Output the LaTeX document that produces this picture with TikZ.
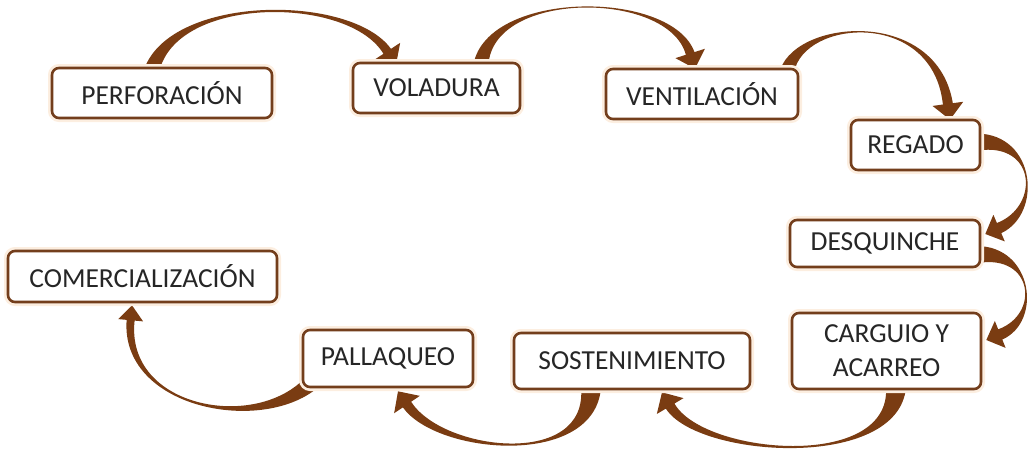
\documentclass[tikz,border=0pt]{standalone}
\usepackage{fontspec}
\setmainfont{Carlito}
\usetikzlibrary{calc}
\definecolor{arrowbrown}{RGB}{122,60,18}
\definecolor{boxbrown}{RGB}{115,62,28}
\definecolor{glow}{RGB}{252,238,224}
\definecolor{txtgray}{RGB}{38,38,38}
\pgfdeclarelayer{bg}
\pgfsetlayers{bg,main}
% tapered curved arrow: #1 start, #2 ctrl1, #3 ctrl2, #4 tip, #5 base half width, #6 ctrl half width, #7 neck half width, #8 head half width, #9 head length
\newcommand{\tarrow}[9]{%
  \coordinate (tP0) at (#1);
  \coordinate (tP1) at (#2);
  \coordinate (tP2) at (#3);
  \coordinate (tP3) at (#4);
  \coordinate (tN) at ($(tP3)!#9!(tP2)$);
  \coordinate (tA0) at ($(tP0)!#5!90:(tP1)$);
  \coordinate (tB0) at ($(tP0)!#5!-90:(tP1)$);
  \coordinate (tA1) at ($(tP1)!#6!-90:(tP0)$);
  \coordinate (tB1) at ($(tP1)!#6!90:(tP0)$);
  \coordinate (tA2) at ($(tP2)!#6!90:(tN)$);
  \coordinate (tB2) at ($(tP2)!#6!-90:(tN)$);
  \coordinate (tAN) at ($(tN)!#7!-90:(tP2)$);
  \coordinate (tBN) at ($(tN)!#7!90:(tP2)$);
  \coordinate (tHA) at ($(tN)!#8!-90:(tP2)$);
  \coordinate (tHB) at ($(tN)!#8!90:(tP2)$);
  \fill[arrowfill] (tA0) .. controls (tA1) and (tA2) .. (tAN) -- (tHA) -- (tP3) -- (tHB) -- (tBN) .. controls (tB2) and (tB1) .. (tB0) -- cycle;
}
\begin{document}
\begin{tikzpicture}[x=1pt,y=-1pt,
  stepbox/.style={draw=boxbrown, line width=2.6pt, fill=white, rounded corners=7pt,
    preaction={draw=glow, line width=8pt},
    inner sep=0pt, text=txtgray, font=\fontsize{27.5}{34}\selectfont, align=center},
  arrowfill/.style={fill=arrowbrown}]
\useasboundingbox (0,0) rectangle (1031,448);
\node[stepbox, minimum width=220pt, minimum height=50pt] (perf) at (162,93) {PERFORACIÓN};
\node[stepbox, minimum width=167pt, minimum height=50pt] (vola) at (436.5,88) {VOLADURA};
\node[stepbox, minimum width=192pt, minimum height=50pt] (vent) at (702,94) {VENTILACIÓN};
\node[stepbox, minimum width=129pt, minimum height=50pt] (rega) at (915.5,145) {REGADO};
\node[stepbox, minimum width=190pt, minimum height=47pt] (desq) at (885,243.5) {DESQUINCHE};
\node[stepbox, minimum width=189pt, minimum height=76pt] (carg) at (886.5,351) {CARGUIO Y\\ACARREO};
\node[stepbox, minimum width=236pt, minimum height=56pt] (sost) at (632,361) {SOSTENIMIENTO};
\node[stepbox, minimum width=170pt, minimum height=57pt] (pall) at (388,358.5) {PALLAQUEO};
\node[stepbox, minimum width=269pt, minimum height=51pt] (come) at (142.5,276.5) {COMERCIALIZACIÓN};
\begin{pgfonlayer}{bg}
\tarrow{$(perf.north)+(-10,3)$}{$(perf.north)+(13,-72)$}{$(vola.north)+(-86.5,-67)$}{$(vola.north)+(-40.5,3)$}{7.5pt}{1.6pt}{4.5pt}{15.5pt}{16pt}
\tarrow{$(vola.north)+(44.5,3)$}{$(vola.north)+(53.5,-72)$}{$(vent.north)+(-32,-78)$}{$(vent.north)+(-7,1)$}{7.5pt}{1.6pt}{4.5pt}{15.5pt}{16pt}
\tarrow{$(vent.north east)+(-12,3)$}{$(vent.north east)+(2,-49)$}{$(rega.north)+(19.5,-110)$}{$(rega.north)+(34.5,1)$}{7pt}{2.2pt}{5pt}{15.5pt}{16pt}
\tarrow{$(rega.east)+(-4,-3)$}{$(rega.east)+(55,-7)$}{$(desq.east)+(60,-33.5)$}{$(desq.east)+(4,-9.5)$}{8.5pt}{4pt}{5.5pt}{14.5pt}{15pt}
\tarrow{$(desq.east)+(-4,11)$}{$(desq.east)+(52,6.5)$}{$(carg.east)+(59,-33)$}{$(carg.east)+(4,-11)$}{8.5pt}{4pt}{5.5pt}{14.5pt}{15pt}
\tarrow{$(carg.south)+(9.5,-3)$}{$(carg.south)+(8.5,81)$}{$(sost.south)+(68,66)$}{$(sost.south)+(30,2)$}{10pt}{3.5pt}{5pt}{15.5pt}{16pt}
\tarrow{$(sost.south)+(-41,-3)$}{$(sost.south)+(-40,78)$}{$(pall.south)+(52,65)$}{$(pall.south)+(10,3)$}{10pt}{3.5pt}{5pt}{15.5pt}{16pt}
\tarrow{$(pall.south west)+(10,-6)$}{$(pall.south west)+(-43,45)$}{$(come.south)+(-20,105)$}{$(come.south)+(-10.5,2)$}{8pt}{2.5pt}{4pt}{12.5pt}{15pt}
\end{pgfonlayer}
\end{tikzpicture}
\end{document}
